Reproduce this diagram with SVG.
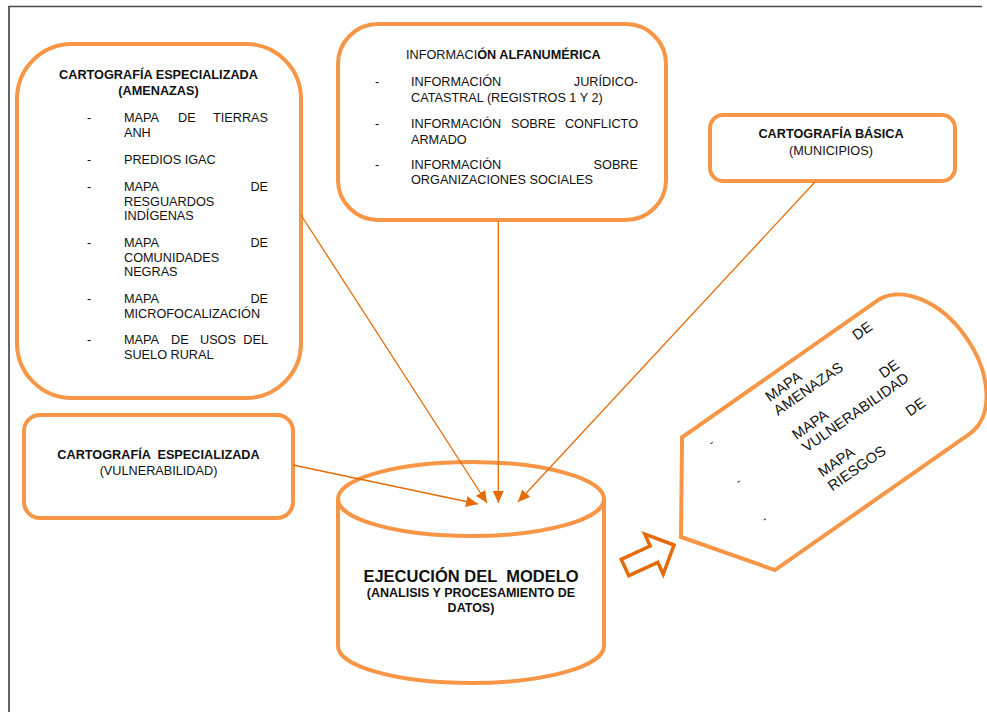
<svg xmlns="http://www.w3.org/2000/svg" width="987" height="712" viewBox="0 0 987 712">
  <defs>
    <style>
      .box { fill: #ffffff; stroke: #F79646; stroke-width: 4; }
      .t { font-family: "Liberation Sans", Arial, sans-serif; font-size: 12.7px; fill: #111111; }
      .b { font-weight: bold; }
      .c { text-anchor: middle; }
      .e { text-anchor: end; }
      .big { font-size: 16.5px; white-space: pre; }
      .rot { font-size: 14.7px; }
      .conn { stroke: #E36C09; stroke-width: 1.3; fill: none; marker-end: url(#head); }
      .frame { stroke: #4a4a4a; stroke-width: 1.7; fill: none; }
    </style>
    <marker id="head" markerUnits="userSpaceOnUse" markerWidth="13" markerHeight="11" refX="12" refY="5.5" orient="auto">
      <path d="M0,0 L12,5.5 L0,11 Z" fill="#E36C09"/>
    </marker>
  </defs>

  <rect width="987" height="712" fill="#ffffff"/>
  <!-- page frame -->
  <path class="frame" d="M9,712 V6.5 H982"/>

  <!-- hazard mapping inputs -->
  <g id="cartografia-amenazas">
    <rect class="box" x="17" y="44" width="284" height="354" rx="55" ry="55"/>
    <text class="t b c" x="158.5" y="79">CARTOGRAFÍA ESPECIALIZADA</text>
    <text class="t b c" x="158.5" y="95">(AMENAZAS)</text>
    <g class="t">
      <text x="87" y="122">-</text>
      <text x="124" y="122">MAPA</text>
      <text x="178" y="122">DE</text>
      <text class="e" x="268" y="122">TIERRAS</text>
      <text x="124" y="137">ANH</text>

      <text x="87" y="164">-</text>
      <text x="124" y="164">PREDIOS IGAC</text>

      <text x="87" y="191">-</text>
      <text x="124" y="191">MAPA</text>
      <text class="e" x="268" y="191">DE</text>
      <text x="124" y="205.5">RESGUARDOS</text>
      <text x="124" y="220">INDÍGENAS</text>

      <text x="87" y="247">-</text>
      <text x="124" y="247">MAPA</text>
      <text class="e" x="268" y="247">DE</text>
      <text x="124" y="261.5">COMUNIDADES</text>
      <text x="124" y="276">NEGRAS</text>

      <text x="87" y="303">-</text>
      <text x="124" y="303">MAPA</text>
      <text class="e" x="268" y="303">DE</text>
      <text x="124" y="317.5">MICROFOCALIZACIÓN</text>

      <text x="87" y="344">-</text>
      <text x="124" y="344">MAPA</text>
      <text x="171" y="344">DE</text>
      <text x="200" y="344">USOS</text>
      <text class="e" x="268" y="344">DEL</text>
      <text x="124" y="358.5">SUELO RURAL</text>
    </g>
  </g>

  <!-- alphanumeric information -->
  <g id="informacion-alfanumerica">
    <rect class="box" x="338" y="24" width="328" height="196" rx="40" ry="40"/>
    <text class="t" x="406" y="59">INFORMACI<tspan class="b">ÓN ALFANUMÉRICA</tspan></text>
    <g class="t">
      <text x="375" y="86">-</text>
      <text x="411" y="86">INFORMACIÓN</text>
      <text class="e" x="638" y="86">JURÍDICO-</text>
      <text x="411" y="101.5">CATASTRAL (REGISTROS 1 Y 2)</text>

      <text x="375" y="128">-</text>
      <text x="411" y="128">INFORMACIÓN</text>
      <text x="511" y="128">SOBRE</text>
      <text class="e" x="638" y="128">CONFLICTO</text>
      <text x="411" y="143.5">ARMADO</text>

      <text x="375" y="168.5">-</text>
      <text x="411" y="168.5">INFORMACIÓN</text>
      <text class="e" x="638" y="168.5">SOBRE</text>
      <text x="411" y="184">ORGANIZACIONES SOCIALES</text>
    </g>
  </g>

  <!-- base cartography -->
  <g id="cartografia-basica">
    <rect class="box" x="710" y="115" width="245" height="66" rx="13" ry="13"/>
    <text class="t b c" x="831" y="138">CARTOGRAFÍA BÁSICA</text>
    <text class="t c" x="831" y="155">(MUNICIPIOS)</text>
  </g>

  <!-- vulnerability mapping -->
  <g id="cartografia-vulnerabilidad">
    <rect class="box" x="24" y="415" width="269" height="103" rx="16" ry="16"/>
    <text class="t b c" x="158.5" y="458.5" style="white-space:pre">CARTOGRAFÍA  ESPECIALIZADA</text>
    <text class="t c" x="158.5" y="474.5">(VULNERABILIDAD)</text>
  </g>

  <!-- model execution (cylinder) -->
  <g id="ejecucion-modelo">
    <path class="box" d="M338,499 V646 A133,37 0 0 0 604,646 V499 A133,37 0 0 0 338,499 Z"/>
    <path class="box" d="M338,499 A133,37 0 0 0 604,499" fill="none"/>
    <text class="t b c big" x="471" y="582">EJECUCIÓN DEL  MODELO</text>
    <text class="t b c" x="471" y="597" style="font-size:12.5px">(ANALISIS Y PROCESAMIENTO DE</text>
    <text class="t b c" x="471" y="611.5" style="font-size:12.5px">DATOS)</text>
  </g>

  <!-- output arrow -->
  <g id="flecha-salida">
    <polygon points="674,545 644.8,534.2 650.2,546 621.2,559.3 628.8,575.7 657.8,562.4 663.2,574.2" fill="#ffffff" stroke="#E36C09" stroke-width="3.5" stroke-linejoin="miter"/>
  </g>

  <!-- resulting maps (display shape) -->
  <g id="mapas-resultado" transform="translate(681,537) rotate(-35)">
    <path class="box" d="M0,0 L58,-81 L296,-81 A52,81 0 0 1 296,81 L58,81 Z"/>
    <g class="t">
      <text x="77" y="-56.5" style="font-size:11px">-</text>
      <text x="77" y="-9.5" style="font-size:11px">-</text>
      <text x="77" y="36.5" style="font-size:11px">-</text>
    </g>
    <g class="t rot">
      <text x="150" y="-59.5">MAPA</text>
      <text class="e" x="277" y="-60">DE</text>
      <text x="149" y="-43.5">AMENAZAS</text>

      <text x="150" y="-13">MAPA</text>
      <text class="e" x="277" y="-13.5">DE</text>
      <text x="151" y="3">VULNERABILIDAD</text>

      <text x="150" y="32.5">MAPA</text>
      <text class="e" x="277" y="33">DE</text>
      <text x="150" y="49.5">RIESGOS</text>
    </g>
  </g>

  <!-- connectors -->
  <g id="conectores">
    <line class="conn" x1="293" y1="465" x2="478" y2="504"/>
    <line class="conn" x1="301" y1="215" x2="487" y2="503"/>
    <line class="conn" x1="498.3" y1="221" x2="498.3" y2="503"/>
    <line class="conn" x1="815" y1="182" x2="518" y2="502"/>
  </g>
</svg>
